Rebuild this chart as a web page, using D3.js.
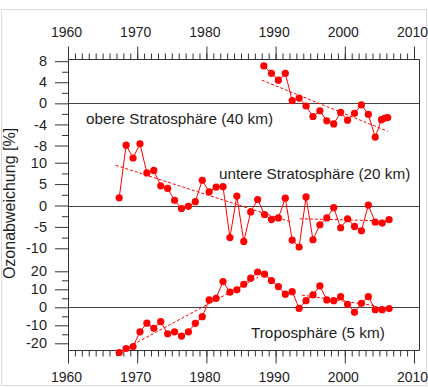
<!DOCTYPE html>
<html>
<head>
<meta charset="utf-8">
<script src="https://cdn.jsdelivr.net/npm/d3@7"></script>
<style>
  html, body { margin: 0; padding: 0; background: #fff; }
  svg { display: block; font-family: "Liberation Sans", Arial, sans-serif; }
</style>
</head>
<body>
<svg id="chart" width="428" height="387"></svg>
<script>
// Ozone anomalies (%) at three altitudes, annual values
const decadeTicks = [1960, 1970, 1980, 1990, 2000, 2010];

// upper stratosphere (40 km): measurement times (decimal years) and values
const upperTime = [1988.3, 1989.4, 1990.4, 1991.4, 1992.4, 1993.4, 1994.4, 1995.4, 1996.4, 1997.4,
                   1998.4, 1999.4, 2000.4, 2001.4, 2002.4, 2003.4, 2004.4, 2005.3, 2005.8, 2006.2];
const upperValues = [7.1, 5.7, 4.4, 5.7, 0.5, 1.0, -0.5, -2.5, -1.4, -3.3,
                     -3.9, -1.7, -3.2, -1.9, -0.3, -2.1, -6.4, -3.1, -2.8, -2.7];
const upperTrend = [[1988.0, 4.4], [2006.2, -5.3]];

// lower stratosphere (20 km) and troposphere (5 km): one value per year
const years = [1967, 1968, 1969, 1970, 1971, 1972, 1973, 1974, 1975, 1976,
               1977, 1978, 1979, 1980, 1981, 1982, 1983, 1984, 1985, 1986,
               1987, 1988, 1989, 1990, 1991, 1992, 1993, 1994, 1995, 1996,
               1997, 1998, 1999, 2000, 2001, 2002, 2003, 2004, 2005, 2006];
const lowerValues = [1.8, 14.1, 11.1, 14.4, 7.6, 8.2, 4.6, 4.0, 1.2, -0.7,
                     -0.2, 0.9, 5.9, 3.2, 4.3, 4.4, -7.5, 2.2, -8.4, -1.5,
                     1.4, -2.1, -3.3, -2.9, 1.7, -8.1, -9.7, 2.0, -8.0, -4.5,
                     -2.9, -0.5, -5.2, -3.1, -4.9, -5.9, 0.1, -3.9, -4.1, -3.3];
const lowerTrends = [[[1966.9, 9.4], [1992.3, -3.9]], [[1993.5, -3.1], [2006.2, -3.6]]];

const tropoValues = [-25.1, -22.9, -21.8, -13.6, -8.8, -11.7, -8.0, -14.7, -13.6, -16.0,
                     -13.6, -8.9, -5.2, 4.1, 5.0, 14.3, 8.4, 9.7, 12.8, 16.2,
                     19.6, 18.4, 14.9, 11.5, 7.3, 8.7, -0.6, 3.7, 6.9, 11.9,
                     4.1, 3.7, 5.9, 1.7, -2.8, 2.2, 5.9, -1.3, -1.3, -0.7];
const tropoTrends = [[[1969.4, -20.7], [1987.5, 16.8]], [[1993.8, 6.8], [2004.5, 0.8]]];

const upperTicks = [-8, -4, 0, 4, 8], upperMinor = [-6, -2, 2, 6];
const lowerTicks = [-10, -5, 0, 5, 10], lowerMinor = [-7.5, -2.5, 2.5, 7.5];
const tropoTicks = [-20, -10, 0, 10, 20], tropoMinor = [-15, -5, 5, 15];

const panelLabels = ["obere Stratosphäre (40 km)", "untere Stratosphäre (20 km)", "Troposphäre (5 km)"];
const yTitle = "Ozonabweichung [%]";

// annual means are plotted slightly after the start of the year
const yearOffset = 0.4;

const panels = [
  { t: upperTime, v: upperValues, trends: [upperTrend], ticks: upperTicks, minor: upperMinor,
    domain: [-8, 8], range: [145.5, 61.2], label: panelLabels[0], lx: 86, ly: 123.5 },
  { t: years.map(y => y + yearOffset), v: lowerValues, trends: lowerTrends, ticks: lowerTicks, minor: lowerMinor,
    domain: [-10, 10], range: [248.3, 162.7], label: panelLabels[1], lx: 219, ly: 179 },
  { t: years.map(y => y + yearOffset), v: tropoValues, trends: tropoTrends, ticks: tropoTicks, minor: tropoMinor,
    domain: [-20, 20], range: [343.3, 271.3], label: panelLabels[2], lx: 251, ly: 337.5 }
];

const svg = d3.select("#chart");
const plotLeft = 68.5, plotRight = 419.5, plotTop = 59.5, plotBottom = 350.5;
const red = "#ff0000", ink = "#1e1e1e", axisCol = "#333";

// light frame around the figure
svg.append("rect").attr("x", 1.5).attr("y", 9.5).attr("width", 425).attr("height", 376)
  .attr("fill", "none").attr("stroke", "#dcdcdc");

const x = d3.scaleLinear().domain([1960, 2010]).range([68, 414]);
const allYears = d3.range(1960, 2011);

function styleAxis(g) {
  g.select(".domain").remove();
  g.selectAll(".tick line").attr("stroke", axisCol);
  g.selectAll(".tick text").attr("fill", ink).attr("font-size", 14.5)
    .attr("font-family", "'Liberation Sans', Arial, sans-serif");
}
function styleYearLabels(g) {
  g.selectAll(".tick text").attr("font-size", 14).attr("dx", -2);
}

// time axes: top and bottom, minor ticks every year
svg.append("g").attr("transform", `translate(0,${plotTop})`)
  .call(d3.axisTop(x).tickValues(allYears).tickSize(6).tickFormat(""))
  .call(styleAxis);
svg.append("g").attr("transform", `translate(0,${plotTop})`)
  .call(d3.axisTop(x).tickValues(decadeTicks).tickSize(13).tickPadding(10).tickFormat(d3.format("d")))
  .call(styleAxis).call(styleYearLabels);
svg.append("g").attr("transform", `translate(0,${plotBottom})`)
  .call(d3.axisBottom(x).tickValues(allYears).tickSize(6).tickFormat(""))
  .call(styleAxis);
svg.append("g").attr("transform", `translate(0,${plotBottom})`)
  .call(d3.axisBottom(x).tickValues(decadeTicks).tickSize(13).tickPadding(9).tickFormat(d3.format("d")))
  .call(styleAxis).call(styleYearLabels);

// frame lines
svg.append("line").attr("x1", plotLeft).attr("x2", plotRight).attr("y1", plotTop).attr("y2", plotTop).attr("stroke", axisCol);
svg.append("line").attr("x1", plotLeft).attr("x2", plotRight).attr("y1", plotBottom).attr("y2", plotBottom).attr("stroke", axisCol);
svg.append("line").attr("x1", plotRight).attr("x2", plotRight).attr("y1", plotTop).attr("y2", plotBottom).attr("stroke", axisCol);
svg.append("line").attr("x1", plotLeft).attr("x2", plotLeft).attr("y1", plotTop).attr("y2", plotBottom).attr("stroke", axisCol);

panels.forEach(p => {
  const y = d3.scaleLinear().domain(p.domain).range(p.range);

  svg.append("g").attr("transform", `translate(${plotLeft - 0.5},0)`)
    .call(d3.axisLeft(y).tickValues(p.minor).tickSize(6).tickFormat(""))
    .call(styleAxis);
  svg.append("g").attr("transform", `translate(${plotLeft - 0.5},0)`)
    .call(d3.axisLeft(y).tickValues(p.ticks).tickSize(13).tickPadding(8).tickFormat(d => String(d)))
    .call(styleAxis);

  // zero reference line
  const y0 = Math.round(y(0)) + 0.5;
  svg.append("line").attr("x1", plotLeft).attr("x2", plotRight).attr("y1", y0).attr("y2", y0)
    .attr("stroke", "#444");

  // linear trends
  const tl = d3.line().x(d => x(d[0])).y(d => y(d[1]));
  p.trends.forEach(tr => {
    svg.append("path").attr("d", tl(tr)).attr("fill", "none")
      .attr("stroke", red).attr("stroke-width", 1).attr("stroke-dasharray", "3,2");
  });

  const pts = p.t.map((t, i) => [t, p.v[i]]);
  svg.append("path").attr("d", tl(pts)).attr("fill", "none")
    .attr("stroke", red).attr("stroke-width", 1);
  svg.append("g").selectAll("circle").data(pts).join("circle")
    .attr("cx", d => x(d[0])).attr("cy", d => y(d[1])).attr("r", 3.6).attr("fill", red);

  svg.append("text").attr("x", p.lx).attr("y", p.ly).attr("font-size", 15.3)
    .attr("fill", ink).text(p.label);
});

svg.append("text").attr("transform", "translate(14.5,203.5) rotate(-90)")
  .attr("text-anchor", "middle").attr("font-size", 16).attr("fill", ink).text(yTitle);
</script>
</body>
</html>
